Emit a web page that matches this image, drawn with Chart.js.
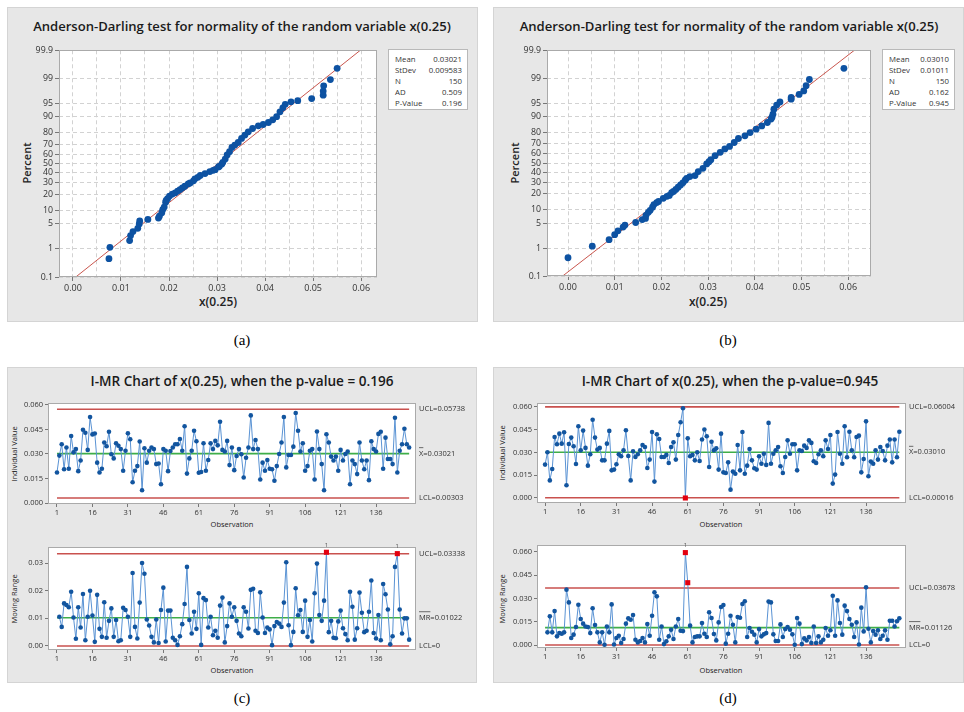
<!DOCTYPE html>
<html><head><meta charset="utf-8">
<script src="https://cdn.jsdelivr.net/npm/chart.js@4.4.1/dist/chart.umd.min.js"></script>
<style>
html,body{margin:0;padding:0;background:#fff;}
body{width:964px;height:712px;position:relative;overflow:hidden;font-family:"Open Sans","Noto Sans",sans-serif;color:#222;}
.panel{position:absolute;background:#e7e7e7;border:1px solid #d4d4d4;box-sizing:border-box;}
.t{position:absolute;white-space:nowrap;transform:translate(-50%,-50%);line-height:1;}
.rot{transform:translate(-50%,-50%) rotate(-90deg);}
canvas{position:absolute;}
.cap{font-family:"Liberation Serif","DejaVu Serif",serif;font-size:15px;color:#000;}
.ttl{font-weight:600;color:#1a1a1a;}
.legend{position:absolute;background:#fff;border:1px solid #b9b9b9;box-sizing:border-box;font-size:7.8px;color:#333;}
.legend .l{position:absolute;left:6px;transform:translateY(-50%);white-space:nowrap;}
.legend .v{position:absolute;right:5px;transform:translateY(-50%);white-space:nowrap;}
</style></head>
<body>
<div class="panel" style="left:7px;top:7px;width:471px;height:315px"></div>
<div class="panel" style="left:493px;top:7px;width:471px;height:315px"></div>
<div class="panel" style="left:7px;top:367px;width:470px;height:316px"></div>
<div class="panel" style="left:493px;top:367px;width:471px;height:316px"></div>

<div class="t ttl" id="tA" style="left:242px;top:27px;font-size:14px">Anderson-Darling test for normality of the random variable x(0.25)</div>
<div class="t ttl" id="tB" style="left:729px;top:27px;font-size:14px">Anderson-Darling test for normality of the random variable x(0.25)</div>
<div class="t ttl" id="tC" style="left:242px;top:381px;font-size:15px">I-MR Chart of x(0.25), when the p-value = 0.196</div>
<div class="t ttl" id="tD" style="left:730px;top:381px;font-size:15px">I-MR Chart of x(0.25), when the p-value=0.945</div>

<div class="t rot" style="left:26px;top:163px;font-size:11px;font-weight:600">Percent</div>
<div class="t" style="left:218px;top:302px;font-size:12px;font-weight:600">x(0.25)</div>
<div class="t rot" style="left:514px;top:163px;font-size:11px;font-weight:600">Percent</div>
<div class="t" style="left:708px;top:302px;font-size:12px;font-weight:600">x(0.25)</div>

<div class="t rot" style="left:15px;top:454px;font-size:7.5px">Individual Value</div>
<div class="t" style="left:232px;top:525px;font-size:7.5px">Observation</div>
<div class="t rot" style="left:15px;top:599px;font-size:7.5px">Moving Range</div>
<div class="t" style="left:232px;top:671px;font-size:7.5px">Observation</div>
<div class="t rot" style="left:503px;top:453px;font-size:7.5px">Individual Value</div>
<div class="t" style="left:721px;top:525px;font-size:7.5px">Observation</div>
<div class="t rot" style="left:503px;top:599px;font-size:7.5px">Moving Range</div>
<div class="t" style="left:721px;top:671px;font-size:7.5px">Observation</div>

<div class="legend" id="legA" style="left:388px;top:49px;width:80px;height:61px"></div>
<div class="legend" id="legB" style="left:882px;top:49px;width:73px;height:61px"></div>

<div class="t cap" style="left:242px;top:340px">(a)</div>
<div class="t cap" style="left:728px;top:340px">(b)</div>
<div class="t cap" style="left:242px;top:698px">(c)</div>
<div class="t cap" style="left:728px;top:698px">(d)</div>

<canvas id="cA"></canvas><canvas id="cB"></canvas>
<canvas id="cCI"></canvas><canvas id="cCM"></canvas>
<canvas id="cDI"></canvas><canvas id="cDM"></canvas>

<script>
// ---------------- DATA ----------------
const statLabels = ['Mean','StDev','N','AD','P-Value'];
const statsA = ['0.03021','0.009583','150','0.509','0.196'];
const statsB = ['0.03010','0.01011','150','0.162','0.945'];
const meanA = 0.03021, sdA = 0.009583;
const meanB = 0.03010, sdB = 0.01011;

const pctTicks = [0.1,1,5,10,20,30,40,50,60,70,80,90,95,99,99.9];
const pctTickLabels = ['0.1','1','5','10','20','30','40','50','60','70','80','90','95','99','99.9'];
const probXTicks = [0,0.005,0.01,0.015,0.02,0.025,0.03,0.035,0.04,0.045,0.05,0.055,0.06];
const probXTickLabels = ['0.00','','0.01','','0.02','','0.03','','0.04','','0.05','','0.06'];

const adA_x = [0.0075,0.0077,0.0118,0.0120,0.0125,0.0135,0.0138,0.0139,0.0156,0.0178,0.0180,0.0185,0.0187,0.0190,0.0193,0.0194,0.0197,0.0201,0.0207,0.0213,0.0218,0.0223,0.0228,0.0233,0.0240,0.0244,0.0251,0.0254,0.0260,0.0265,0.0275,0.0285,0.0292,0.0296,0.0303,0.0305,0.0310,0.0312,0.0317,0.0321,0.0326,0.0331,0.0337,0.0344,0.0351,0.0358,0.0365,0.0374,0.0386,0.0396,0.0407,0.0416,0.0424,0.0431,0.0437,0.0442,0.0454,0.0468,0.0497,0.0521,0.0521,0.0522,0.0536,0.0550];
const adA_pct = [0.48,1.13,1.8,2.5,3.2,3.9,5.0,5.9,6.4,6.9,7.6,9.06,10.5,11.8,14.7,15.8,17.0,18.8,20.3,21.3,22.7,24.0,25.5,26.9,29.0,30.0,32.0,33.9,35.5,37.3,39.3,41.4,42.8,43.5,46.4,47.1,49.5,51.4,55.0,59.3,62.7,67.1,69.4,71.8,75.4,78.2,80.7,83.1,84.9,85.7,86.9,88.4,90.0,92.1,93.6,94.7,95.4,95.7,96.2,96.9,97.6,98.3,98.9,99.53];

const adB_x = [0.0,0.0052,0.0088,0.010,0.0107,0.0118,0.0122,0.0145,0.0159,0.0166,0.0167,0.0172,0.0176,0.0181,0.0184,0.0190,0.0194,0.0204,0.0212,0.0217,0.0222,0.0226,0.0231,0.0236,0.0241,0.0246,0.0251,0.0254,0.0261,0.0272,0.0279,0.0289,0.0297,0.0302,0.0306,0.0315,0.0326,0.0336,0.0346,0.0356,0.0365,0.0379,0.0390,0.0403,0.0415,0.0427,0.0435,0.0437,0.0439,0.0441,0.0447,0.0454,0.0478,0.0478,0.0495,0.0505,0.0510,0.0517,0.0591];
const adB_pct = [0.48,1.15,1.8,2.5,3.2,4.0,4.5,5.2,6.1,6.5,7.65,8.9,9.8,11.4,12.8,14.0,14.7,16.8,18.2,18.8,21.0,21.9,23.6,25.5,27.5,29.5,32.0,33.9,35.6,36.7,40.9,44.4,49.1,51.5,53.8,58.1,61.6,65.1,67.6,71.4,75.0,77.3,79.9,82.4,84.6,86.7,88.6,89.6,91.0,93.0,94.4,95.3,96.0,96.4,97.0,97.6,98.3,98.9,99.53];

const obsTicks = [1,16,31,46,61,76,91,106,121,136];
const iTicks = [0,0.015,0.03,0.045,0.06];
const mrTicksC = [0,0.01,0.02,0.03];
const mrTicksD = [0,0.015,0.03,0.045,0.06];

const iC = [0.0187,0.029,0.036,0.0207,0.034,0.021,0.041,0.031,0.033,0.0195,
 0.026,0.0448,0.043,0.0325,0.0526,0.042,0.0425,0.0247,0.0187,0.021,
 0.037,0.0347,0.0436,0.0298,0.0273,0.0366,0.035,0.033,0.0197,0.032,
 0.0427,0.039,0.0127,0.0197,0.0226,0.0376,0.0078,0.0335,0.0247,0.032,
 0.034,0.033,0.0238,0.0242,0.0115,0.033,0.032,0.0195,0.0318,0.034,
 0.036,0.036,0.0392,0.032,0.047,0.018,0.0273,0.032,0.0442,0.0378,
 0.0185,0.019,0.0366,0.0197,0.0263,0.0366,0.033,0.038,0.0353,0.0497,
 0.0325,0.0315,0.038,0.0232,0.034,0.0201,0.0288,0.033,0.0298,0.0156,
 0.0277,0.034,0.0536,0.033,0.0386,0.033,0.0144,0.0247,0.0197,0.0263,
 0.021,0.0207,0.0136,0.0226,0.030,0.037,0.0526,0.0218,0.0294,0.0294,
 0.0345,0.0551,0.0442,0.0315,0.0366,0.0197,0.0226,0.032,0.033,0.0144,
 0.0438,0.033,0.0238,0.0078,0.0421,0.037,0.0284,0.026,0.0284,0.0197,
 0.0325,0.026,0.030,0.0315,0.0115,0.026,0.0238,0.0177,0.037,0.026,
 0.0207,0.026,0.014,0.0378,0.033,0.0315,0.0423,0.0436,0.021,0.040,
 0.0269,0.0269,0.0238,0.0522,0.0187,0.032,0.036,0.0454,0.036,0.034];

const mrC = [0.0106,0.0069,0.0154,0.0148,0.014,0.0196,0.0103,0.0026,0.014,
 0.0067,0.0188,0.0021,0.0106,0.020,0.011,0.0015,0.0185,0.0062,0.0033,
 0.0158,0.003,0.0091,0.0136,0.0033,0.0094,0.0017,0.0021,0.0138,0.013,
 0.0106,0.0033,0.0264,0.0069,0.0027,0.0157,0.030,0.0261,0.0096,0.0074,
 0.0033,0.0013,0.0096,0.0011,0.013,0.0211,0.0016,0.0128,0.0128,0.003,
 0.0021,0.0004,0.0035,0.0079,0.0152,0.0286,0.0094,0.0045,0.0124,0.0062,
 0.0191,0.0004,0.0173,0.0166,0.0067,0.0106,0.0039,0.0055,0.003,0.0146,
 0.0175,0.0013,0.0072,0.0154,0.0106,0.014,0.0091,0.0045,0.0035,0.014,
 0.0124,0.0063,0.0203,0.0207,0.0055,0.0047,0.0194,0.0103,0.0047,0.0067,
 0.006,0.0003,0.0072,0.0087,0.0081,0.0069,0.0157,0.0303,0.0075,0.0003,
 0.0051,0.0209,0.0111,0.013,0.0051,0.0164,0.0033,0.0094,0.0016,0.0191,
 0.0298,0.0112,0.0091,0.0164,0.0339,0.005,0.0091,0.003,0.0028,0.0089,
 0.0128,0.0064,0.0043,0.0021,0.0196,0.0142,0.0023,0.0064,0.0193,0.012,
 0.005,0.0055,0.0124,0.0237,0.0047,0.0027,0.0112,0.0021,0.0224,0.0187,
 0.0132,0.0006,0.0035,0.0286,0.0334,0.0132,0.0045,0.01,0.01,0.0023];

const iD = [0.022,0.0301,0.0116,0.0191,0.0402,0.0354,0.0424,0.0358,0.0433,0.0084,
 0.0356,0.0398,0.0341,0.0224,0.0473,0.0314,0.0444,0.033,0.0213,0.0288,
 0.0516,0.0398,0.0319,0.033,0.0248,0.0248,0.0358,0.0442,0.0182,0.0187,
 0.0222,0.0288,0.0275,0.0314,0.0446,0.0277,0.0116,0.0308,0.027,0.0288,
 0.0314,0.0349,0.0336,0.0198,0.0253,0.0435,0.0108,0.042,0.0389,0.027,
 0.027,0.0284,0.0231,0.0336,0.0367,0.0253,0.0415,0.0499,0.0591,0.0000,
 0.0393,0.0275,0.0284,0.0248,0.0301,0.0244,0.0385,0.0451,0.0407,0.0204,
 0.0371,0.0314,0.0327,0.0187,0.0424,0.0169,0.0165,0.0235,0.0055,0.0174,
 0.016,0.0349,0.0182,0.0435,0.016,0.0213,0.0323,0.0248,0.0196,0.0187,
 0.0275,0.0226,0.0292,0.0218,0.0495,0.0226,0.0292,0.0314,0.0336,0.0209,
 0.0165,0.027,0.038,0.0292,0.0354,0.0354,0.0182,0.0314,0.031,0.0345,
 0.033,0.038,0.0363,0.0242,0.0231,0.0288,0.0314,0.0275,0.038,0.0323,
 0.0415,0.0095,0.0154,0.0435,0.0292,0.0226,0.0473,0.0268,0.0437,0.0314,
 0.0268,0.0402,0.0411,0.0169,0.0257,0.0505,0.0143,0.024,0.0226,0.0314,
 0.0253,0.0336,0.031,0.0248,0.0345,0.0385,0.0235,0.0385,0.0268,0.0437];

const mrD = [0.0082,0.0185,0.0082,0.0219,0.0056,0.0077,0.0073,0.0082,0.0357,
 0.0275,0.0045,0.0067,0.0116,0.026,0.0168,0.0138,0.012,0.0116,0.0077,
 0.0237,0.0129,0.0082,0.0017,0.0082,0.0002,0.012,0.0082,0.0262,0.0004,
 0.0045,0.006,0.0013,0.0039,0.0138,0.0172,0.0163,0.0194,0.0034,0.0017,
 0.0026,0.0045,0.0017,0.0135,0.006,0.0189,0.034,0.0314,0.0034,0.012,
 0.0006,0.0024,0.0056,0.0099,0.0039,0.012,0.0168,0.0092,0.009,0.0596,
 0.0402,0.0125,0.0017,0.0052,0.0056,0.0056,0.0142,0.0073,0.0052,0.0211,
 0.0174,0.0071,0.003,0.0146,0.0245,0.0258,0.0009,0.0073,0.0189,0.0131,
 0.0017,0.0181,0.0176,0.0265,0.0282,0.0052,0.011,0.0086,0.0067,0.0017,
 0.0103,0.0056,0.0069,0.0077,0.028,0.0275,0.0069,0.0026,0.0026,0.0133,
 0.0052,0.0103,0.0116,0.0099,0.0069,0.0002,0.0174,0.0138,0.0006,0.0043,
 0.003,0.0052,0.0013,0.012,0.0013,0.0056,0.0017,0.0034,0.011,0.006,
 0.0095,0.0318,0.006,0.0288,0.0142,0.0067,0.0254,0.0219,0.0168,0.0131,
 0.0052,0.0146,0.0004,0.0241,0.0088,0.0372,0.0105,0.0017,0.009,0.0067,
 0.0095,0.0039,0.006,0.0095,0.0034,0.0157,0.0157,0.012,0.0153,0.0172];

const limCI = [0.05738,0.03021,0.00303];
const limCM = [0.03338,0.01022,0];
const limDI = [0.06004,0.03010,0.00016];
const limDM = [0.03678,0.01126,0];
const labCI = ['UCL=0.05738','X=0.03021','LCL=0.00303'];
const labCM = ['UCL=0.03338','MR=0.01022','LCL=0'];
const labDI = ['UCL=0.06004','X=0.03010','LCL=0.00016'];
const labDM = ['UCL=0.03678','MR=0.01126','LCL=0'];
const flagCI = [], flagCM = [115,145], flagDI = [60], flagDM = [60,61];
const onesCM = [115,145], onesDM = [60];

// ---------------- HELPERS ----------------
function probit(p){
 const a=[-3.969683028665376e+01,2.209460984245205e+02,-2.759285104469687e+02,1.383577518672690e+02,-3.066479806614716e+01,2.506628277459239e+00];
 const b=[-5.447609879822406e+01,1.615858368580409e+02,-1.556989798598866e+02,6.680131188771972e+01,-1.328068155288572e+01];
 const c=[-7.784894002430293e-03,-3.223964580411365e-01,-2.400758277161838e+00,-2.549732539343734e+00,4.374664141464968e+00,2.938163982698783e+00];
 const d=[7.784695709041462e-03,3.224671290700398e-01,2.445134137142996e+00,3.754408661907416e+00];
 const pl=0.02425,ph=1-pl;let q,r;
 if(p<pl){q=Math.sqrt(-2*Math.log(p));return (((((c[0]*q+c[1])*q+c[2])*q+c[3])*q+c[4])*q+c[5])/((((d[0]*q+d[1])*q+d[2])*q+d[3])*q+1);}
 if(p<=ph){q=p-0.5;r=q*q;return (((((a[0]*r+a[1])*r+a[2])*r+a[3])*r+a[4])*r+a[5])*q/(((((b[0]*r+b[1])*r+b[2])*r+b[3])*r+b[4])*r+1);}
 q=Math.sqrt(-2*Math.log(1-p));return -(((((c[0]*q+c[1])*q+c[2])*q+c[3])*q+c[4])*q+c[5])/((((d[0]*q+d[1])*q+d[2])*q+d[3])*q+1);
}
const FONT='"Open Sans","Noto Sans",sans-serif';
Chart.defaults.font.family=FONT;
Chart.defaults.color='#333';

function place(id,plot,m){
 const c=document.getElementById(id);
 const W=plot[2]-plot[0]+m.l+m.r, H=plot[3]-plot[1]+m.t+m.b;
 c.width=W;c.height=H;c.style.width=W+'px';c.style.height=H+'px';
 c.style.left=(plot[0]-m.l)+'px';c.style.top=(plot[1]-m.t)+'px';
 return c;
}

const deco={id:'deco',
 beforeDraw(ch){const a=ch.chartArea,c=ch.ctx;c.save();c.fillStyle='#fff';c.fillRect(a.left,a.top,a.width,a.height);c.restore();},
 afterDatasetsDraw(ch,args,o){
  const a=ch.chartArea,c=ch.ctx;c.save();
  c.strokeStyle='#aaaaaa';c.lineWidth=1;c.setLineDash([]);
  c.strokeRect(Math.round(a.left)+0.5,Math.round(a.top)+0.5,Math.round(a.width)-1,Math.round(a.height)-1);
  if(o.labels){
   c.font='7.5px '+FONT;c.fillStyle='#333';c.textBaseline='middle';c.textAlign='left';
   o.labels.forEach(l=>{
    const y=ch.scales.y.getPixelForValue(l.v),x=a.right+3;
    c.fillText(l.text,x,y);
    if(l.bar){const w=c.measureText(l.text.slice(0,l.bar)).width;c.beginPath();c.moveTo(x,y-6);c.lineTo(x+w,y-6);c.lineWidth=0.7;c.strokeStyle='#333';c.stroke();}
   });
  }
  if(o.ones){
   c.font='6px '+FONT;c.fillStyle='#555';c.textAlign='center';c.textBaseline='bottom';
   o.ones.forEach(p=>{c.fillText('1',ch.scales.x.getPixelForValue(p.x),ch.scales.y.getPixelForValue(p.y)-4);});
  }
  c.restore();
 }
};

function probChart(id,plot,xr,xs,ps,mean,sd){
 const m={l:40,t:6,r:8,b:22};
 const cv=place(id,plot,m);
 const zmin=probit(0.001),zmax=probit(0.999);
 const pts=xs.map((x,i)=>({x:x,y:probit(ps[i]/100)}));
 new Chart(cv,{type:'scatter',
  data:{datasets:[
   {data:pts,pointRadius:3.4,pointBackgroundColor:'#0d52a2',pointBorderWidth:0,order:0},
   {type:'line',data:[{x:mean+sd*zmin,y:zmin},{x:mean+sd*zmax,y:zmax}],borderColor:'#c9564e',borderWidth:1,pointRadius:0,order:1}
  ]},
  options:{responsive:false,animation:false,events:[],
   layout:{padding:{top:m.t,right:m.r,left:0,bottom:0},autoPadding:false},
   plugins:{legend:{display:false},tooltip:{enabled:false},deco:{}},
   scales:{
    x:{type:'linear',min:xr[0],max:xr[1],
     afterBuildTicks:s=>{s.ticks=probXTicks.map(v=>({value:v}));},
     afterFit:s=>{s.height=m.b;},
     ticks:{autoSkip:false,maxRotation:0,padding:2,font:{size:9},color:'#333',callback:(v,i)=>probXTickLabels[i]},
     grid:{color:'#d2d2d2',lineWidth:1,drawTicks:true,tickLength:4,tickColor:c=>(c.index%2===0?'#777':'rgba(0,0,0,0)')},
     border:{display:false,dash:[4,3]}},
    y:{type:'linear',min:zmin,max:zmax,
     afterBuildTicks:s=>{s.ticks=pctTicks.map(p=>({value:probit(p/100)}));},
     afterFit:s=>{s.width=m.l;},
     ticks:{autoSkip:false,padding:2,font:{size:8.8},color:'#333',callback:(v,i)=>pctTickLabels[i]},
     grid:{color:'#d2d2d2',lineWidth:1,drawTicks:true,tickLength:4,tickColor:'#777'},
     border:{display:false,dash:[4,3]}}
   }},
  plugins:[deco]});
}

function imrChart(id,plot,vals,start,flags,ones,xr,yr,yTicks,dec,lims,labs){
 const m={l:38,t:8,r:72,b:16};
 const cv=place(id,plot,m);
 const pts=vals.map((v,i)=>({x:i+start,y:v}));
 const isF=i=>flags.includes(i+start);
 const cols=['#c9514e','#3fae49','#c9514e'];
 const ds=[{type:'line',data:pts,borderColor:'#5a93d4',borderWidth:1,tension:0,
   pointRadius:c=>isF(c.dataIndex)?3.6:2.3,pointStyle:c=>isF(c.dataIndex)?'rect':'circle',
   pointBackgroundColor:c=>isF(c.dataIndex)?'#e3000f':'#12559f',pointBorderWidth:0,order:0}];
 lims.forEach((L,k)=>ds.push({type:'line',data:[{x:1,y:L},{x:150,y:L}],borderColor:cols[k],borderWidth:1.6,pointRadius:0,order:1}));
 const labels=lims.map((L,k)=>({v:L,text:labs[k],bar:k===1?(labs[k].startsWith('MR')?2:1):0}));
 const onesPts=ones.map(o=>({x:o,y:vals[o-start]}));
 new Chart(cv,{type:'line',data:{datasets:ds},
  options:{responsive:false,animation:false,events:[],
   layout:{padding:{top:m.t,right:m.r,left:0,bottom:0},autoPadding:false},
   plugins:{legend:{display:false},tooltip:{enabled:false},deco:{labels:labels,ones:onesPts}},
   scales:{
    x:{type:'linear',min:xr[0],max:xr[1],
     afterBuildTicks:s=>{s.ticks=obsTicks.map(v=>({value:v}));},
     afterFit:s=>{s.height=m.b;},
     ticks:{autoSkip:false,maxRotation:0,padding:1,font:{size:7.5},color:'#333',callback:(v,i)=>String(obsTicks[i])},
     grid:{display:true,drawOnChartArea:false,drawTicks:true,tickLength:3,tickColor:'#777'},
     border:{display:false}},
    y:{type:'linear',min:yr[0],max:yr[1],
     afterBuildTicks:s=>{s.ticks=yTicks.map(v=>({value:v}));},
     afterFit:s=>{s.width=m.l;},
     ticks:{autoSkip:false,padding:2,font:{size:7.5},color:'#333',callback:(v,i)=>yTicks[i].toFixed(dec)},
     grid:{display:true,drawOnChartArea:false,drawTicks:true,tickLength:3,tickColor:'#777'},
     border:{display:false}}
   }},
  plugins:[deco]});
}

function legend(id,vals){
 const el=document.getElementById(id);
 statLabels.forEach((l,i)=>{
  const y=9+i*11;
  const a=document.createElement('div');a.className='l';a.style.top=y+'px';a.textContent=l;el.appendChild(a);
  const b=document.createElement('div');b.className='v';b.style.top=y+'px';b.textContent=vals[i];el.appendChild(b);
 });
}
function fit(id,target){
 const el=document.getElementById(id);const w=el.getBoundingClientRect().width;
 const fs=parseFloat(getComputedStyle(el).fontSize);el.style.fontSize=(fs*target/w)+'px';
}

// ---------------- BUILD ----------------
legend('legA',statsA);legend('legB',statsB);
fit('tA',418);fit('tB',419);fit('tC',303);fit('tD',297);

probChart('cA',[59,49,377,277],[-0.0029,0.0633],adA_x,adA_pct,meanA,sdA);
probChart('cB',[547,49,871,276],[-0.0045,0.0649],adB_x,adB_pct,meanB,sdB);

imrChart('cCI',[48,403,416,504],iC,1,flagCI,[],[-2.8,152.9],[-0.0006,0.0612],iTicks,3,limCI,labCI);
imrChart('cCM',[48,547,416,650],mrC,2,flagCM,onesCM,[-2.8,152.9],[-0.00145,0.0358],mrTicksC,2,limCM,labCM);
imrChart('cDI',[537,403,906,503],iD,1,flagDI,[],[-2.4,152.8],[-0.0033,0.0626],iTicks,3,limDI,labDI);
imrChart('cDM',[537,545,906,648],mrD,2,flagDM,onesDM,[-2.4,152.8],[-0.0019,0.0645],mrTicksD,3,limDM,labDM);
</script>
</body></html>
